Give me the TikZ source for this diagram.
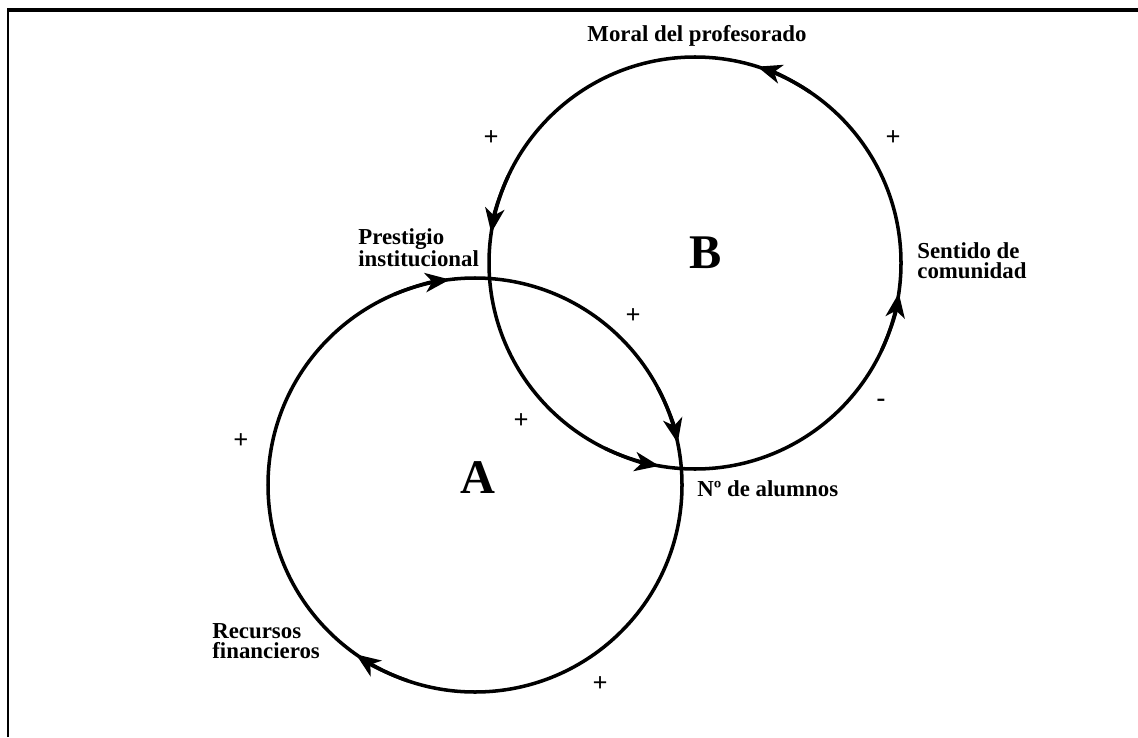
\documentclass[tikz,border=0pt]{standalone}
\usepackage{fontspec}
\setmainfont{Liberation Serif}
\usepackage{tikz}
\usetikzlibrary{arrows.meta,calc}

\begin{document}
\begin{tikzpicture}[var/.style={font=\fontsize{13}{11.5}\selectfont\bfseries,align=left,inner sep=0pt,anchor=north west},sign/.style={font=\fontsize{15}{15}\selectfont\bfseries,inner sep=0pt},loopname/.style={font=\fontsize{27.5}{28}\selectfont\bfseries,inner sep=0pt},loopline/.style={line width=2pt},flow/.style={line width=2pt,-{Stealth[length=14pt,width=11pt,inset=4pt]}}]
\useasboundingbox (0,0) rectangle (22.76,14.74);
% frame
\draw[line width=1.3pt] (0.16,0) -- (0.16,14.54);
\draw[line width=2.2pt] (0.14,14.54) -- (22.76,14.54);
% loop centres
\coordinate (ca) at (9.50,5.04);
\coordinate (cb) at (13.90,9.48);
% loops
\draw[loopline] (ca) circle[radius=4.14];
\draw[loopline] (cb) circle[radius=4.12];
% arrow heads, loop A runs clockwise, loop B anticlockwise
\foreach \s/\e in {113/97,28/11.7,251/234.9}
  \draw[flow] ($(ca)+(\s:4.14)$) arc[start angle=\s,end angle=\e,radius=4.14];
\foreach \s/\e in {56/72.4,155/171.6,244/260,335/351.6}
  \draw[flow] ($(cb)+(\s:4.12)$) arc[start angle=\s,end angle=\e,radius=4.12];
% variables
\node[var,anchor=center] (moral) at (13.94,14.02) {Moral del profesorado};
\node[var] (prestigio) at (7.16,10.18) {Prestigio\\institucional};
\node[var] (comunidad) at (18.34,9.90) {Sentido de\\comunidad};
\node[var] (alumnos) at (13.94,5.14) {Nº de alumnos};
\node[var] (recursos) at (4.24,2.28) {Recursos\\financieros};
% loop names
\node[loopname] (loopa) at (9.56,5.18) {A};
\node[loopname] (loopb) at (14.12,9.68) {B};
% signs
\node[sign] (s1) at (9.82,11.98) {+};
\node[sign] (s2) at (17.86,11.98) {+};
\node[sign] (s3) at (12.66,8.42) {+};
\node[sign] (s4) at (10.42,6.32) {+};
\node[sign] (s5) at (4.82,5.92) {+};
\node[sign] (s6) at (12.00,1.06) {+};
\node[sign] (s7) at (17.62,6.68) {-};
\end{tikzpicture}
\end{document}
